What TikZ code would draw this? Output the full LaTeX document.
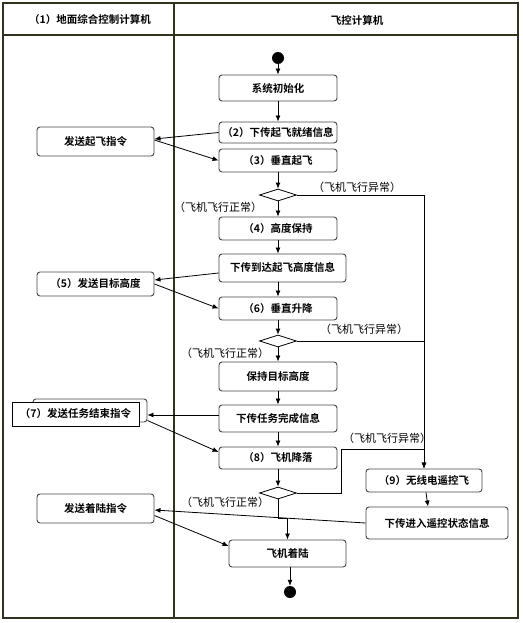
\documentclass[tikz,border=0pt]{standalone}
\usepackage{fontspec}
\setmainfont{Noto Sans CJK SC}[BoldFont={Noto Sans CJK SC Bold}]
\usetikzlibrary{arrows.meta,shapes.geometric,calc}
\definecolor{framec}{RGB}{50,50,30}
\definecolor{boxc}{RGB}{70,70,70}
\tikzset{
  every node/.style={font=\fontsize{10.5}{12}\selectfont},
  act/.style={draw=boxc,line width=0.9pt,rounded corners=3pt,fill=white,inner sep=0pt,font=\fontsize{10.5}{12}\selectfont\bfseries},
  dec/.style={draw=black,line width=0.8pt,diamond,inner sep=0pt,minimum width=37pt,minimum height=12pt,fill=white},
  arr/.style={draw=black,line width=0.8pt,-{Latex[length=6pt,width=5pt]}},
  ln/.style={draw=black,line width=0.8pt},
  lbl/.style={inner sep=0pt,font=\fontsize{11}{13}\selectfont},
  hdr/.style={inner sep=0pt,font=\fontsize{10.5}{12}\selectfont\bfseries},
  dot/.style={circle,fill=black,inner sep=0pt,minimum size=12pt},
}
\begin{document}
\begin{tikzpicture}[x=1pt,y=-1pt]
\useasboundingbox (0,0) rectangle (522,623);
% frame
\draw[framec,line width=1.4pt] (3,3) rectangle (518,618);
\draw[framec,line width=1.2pt] (3,35) -- (518,35);
\draw[framec,line width=1.2pt] (174,3) -- (174,618);
\node[hdr] (h1) at (90,20) {（1）地面综合控制计算机};
\node[hdr] (h2) at (357,20) {飞控计算机};

% start
\node[dot] (start) at (278,58) {};
\node[act,minimum width=118pt,minimum height=26pt] (init) at (278,88) {系统初始化};
\node[act,minimum width=118pt,minimum height=21pt] (b2) at (278,132.5) {（2）下传起飞就绪信息};
\node[act,minimum width=118pt,minimum height=23pt] (b3) at (278,160.5) {（3）垂直起飞};
\node[act,minimum width=117pt,minimum height=29pt] (s1) at (95.5,141.5) {发送起飞指令};
\node[dec] (d1) at (278,195) {};
\node[act,minimum width=118pt,minimum height=23pt] (b4) at (278,228.5) {（4）高度保持};
\node[act,minimum width=127pt,minimum height=28pt] (b4b) at (282.5,268) {下传到达起飞高度信息};
\node[act,minimum width=117pt,minimum height=24pt] (s5) at (95.5,284) {（5）发送目标高度};
\node[act,minimum width=118pt,minimum height=23pt] (b6) at (278,308.5) {（6）垂直升降};
\node[dec] (d2) at (278,341) {};
\node[act,minimum width=118pt,minimum height=29pt] (b7) at (278,376.5) {保持目标高度};
\node[act,minimum width=114pt,minimum height=23pt] (s7b) at (90,410.5) {};
\node[draw=black,line width=0.9pt,fill=white,inner sep=0pt,minimum width=127pt,minimum height=24pt,font=\fontsize{10.5}{12}\selectfont\bfseries] (s7) at (75.5,414) {（7）发送任务结束指令};
\node[act,minimum width=118pt,minimum height=27pt] (b8) at (278,418.5) {下传任务完成信息};
\node[act,minimum width=118pt,minimum height=22pt] (b9) at (278,458) {（8）飞机降落};
\node[dec] (d3) at (278,493) {};
\node[act,minimum width=116pt,minimum height=23pt] (r9) at (424,480.5) {（9）无线电遥控飞};
\node[act,minimum width=142pt,minimum height=32pt] (r10) at (437,523) {下传进入遥控状态信息};
\node[act,minimum width=117pt,minimum height=29pt] (s8) at (95.5,508.5) {发送着陆指令};
\node[act,minimum width=117pt,minimum height=27pt] (land) at (287.5,553.5) {飞机着陆};
\node[dot] (end) at (290,592) {};

\coordinate (c3) at (341,449);
\coordinate (c4) at (278,518);

% main flow
\draw[arr] (start) -- (init);
\draw[arr] (init) -- (b2);
\draw[arr] (b3) -- (d1);
\draw[arr] (d1) -- (b4);
\draw[arr] (b4) -- (b4b.north -| b4.south);
\draw[arr] (b4b.south -| b6.north) -- (b6);
\draw[arr] (b6) -- (d2);
\draw[arr] (d2) -- (b7);
\draw[arr] (b7) -- (b8);
\draw[arr] (b8) -- (b9);
\draw[arr] (b9) -- (d3);
\draw[arr] (d3.south) -- (c4) -| (land.north);
\draw[arr] (land.south -| end) -- (end);

% abnormal branches
\draw[arr] (d1.east) -| (r9.north);
\draw[ln] (d2.east) -- (d2.east -| r9.north);
\draw[arr] (d3.east) -| (c3) -| (r9.north);
\draw[arr] ([xshift=2pt]r9.south) -- ([xshift=-9pt]r10.north);

% cross-lane messages
\draw[arr] (b2.west) -- ([yshift=2.5pt]s1.east);
\draw[arr] ([yshift=1.5pt]s1.east) -- (b3.west);
\draw[arr] ([yshift=-5pt]b4b.west) -- ([yshift=4pt]s5.east);
\draw[arr] (s5.east) -- (b6.west);
\draw[arr] ([yshift=3.5pt]b8.west) -- ([yshift=-4.5pt]s7b.east);
\draw[arr] ([yshift=-10pt]s7b.east) -- ([yshift=6pt]b9.west);
\draw[arr] (r10.west) -- ([yshift=-1.5pt]s8.east);
\draw[arr] ([yshift=-7pt]s8.east) -- ([yshift=7.5pt]land.west);

% guard labels
\node[lbl] (g1) at (357,187) {（飞机飞行异常）};
\node[lbl] (g2) at (218,207) {（飞机飞行正常）};
\node[lbl] (g3) at (364,329) {（飞机飞行异常）};
\node[lbl] (g4) at (225,353) {（飞机飞行正常）};
\node[lbl] (g5) at (387,438) {（飞机飞行异常）};
\node[lbl] (g6) at (225,502) {（飞机飞行正常）};
\end{tikzpicture}
\end{document}
